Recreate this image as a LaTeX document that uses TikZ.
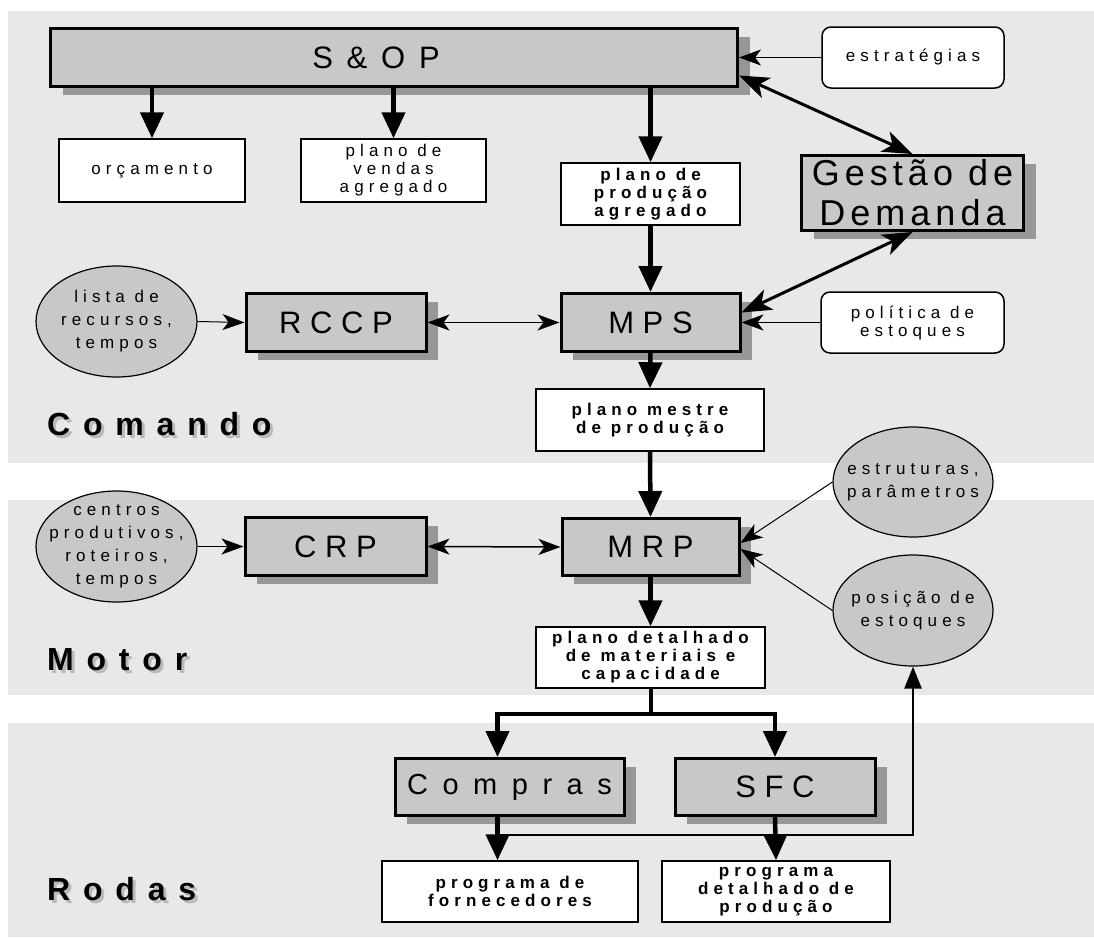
\documentclass[tikz,border=0pt]{standalone}
\usepackage{fontspec}
\setmainfont{Liberation Sans}
\newfontfamily\spc[LetterSpace=30]{Liberation Sans}
\newfontfamily\spcbf[LetterSpace=30]{Liberation Sans Bold}
\newfontfamily\secbf[LetterSpace=40]{Liberation Sans Bold}
\newfontfamily\gdfont[LetterSpace=14]{Liberation Sans}
\newfontfamily\cmpfont[LetterSpace=50]{Liberation Sans}
\usetikzlibrary{arrows.meta,shapes.geometric,shadows,positioning}

\definecolor{panelgray}{HTML}{E8E8E8}
\definecolor{boxgray}{HTML}{C8C8C8}
\definecolor{shadowgray}{HTML}{979797}

\tikzset{
  panel/.style={fill=panelgray,draw=none},
  bigbox/.style={draw,line width=3pt,fill=boxgray,inner sep=0pt,
    drop shadow={shadow xshift=12pt,shadow yshift=-8pt,fill=shadowgray,opacity=1},
    font=\fontsize{31}{34}\selectfont},
  infobox/.style={draw,line width=1.5pt,fill=white,inner sep=0pt,align=center,
    font=\spc\fontsize{17}{18}\selectfont},
  planbox/.style={infobox,font=\spcbf\fontsize{17}{18}\selectfont},
  roundbox/.style={infobox,rounded corners=9pt},
  oval/.style={ellipse,draw,line width=1.2pt,fill=boxgray,inner sep=-14pt,align=center,
    minimum width=160pt,minimum height=110pt,font=\spc\fontsize{17}{23}\selectfont},
  seclabel/.style={anchor=base west,inner sep=0pt,font=\secbf\fontsize{32}{36}\selectfont},
  bigarrow/.style={line width=4.5pt,-{Triangle[length=26pt,width=23pt]}},
  thinarrow/.style={line width=1pt,-{Stealth[length=22pt,width=16pt,inset=6pt]}},
  thindbl/.style={line width=1.5pt,{Stealth[length=22pt,width=16pt,inset=6pt]}-{Stealth[length=22pt,width=16pt,inset=6pt]}},
  dblarrow/.style={line width=3pt,{Stealth[length=30pt,width=22pt,inset=8pt]}-{Stealth[length=30pt,width=22pt,inset=8pt]}},
  fbarrow/.style={line width=2.5pt,-{Triangle[length=22pt,width=17pt]}}
}

\begin{document}
\begin{tikzpicture}[x=1pt,y=-1pt]
  \useasboundingbox (0,0) rectangle (1094,937);
  \fill[panel] (8,11) rectangle (1094,463);
  \fill[panel] (8,500) rectangle (1094,695);
  \fill[panel] (8,723) rectangle (1094,937);

  % Comando
  \node[bigbox,minimum width=687pt,minimum height=58pt] (sop) at (394,57.5) {S \,\&\, O\, P\hspace*{36pt}};
  \node[infobox,minimum width=186pt,minimum height=63pt] (orc) at (152,170.5) {orçamento};
  \node[infobox,minimum width=185pt,minimum height=63pt] (pvend) at (393.5,170.5) {plano de\\vendas\\agregado};
  \node[roundbox,minimum width=182pt,minimum height=61pt] (estr) at (913,57.5) {estratégias};
  \node[planbox,minimum width=179pt,minimum height=62pt] (ppa) at (650.5,194) {plano de\\produção\\agregado};
  \node[bigbox,minimum width=222pt,minimum height=75pt,align=center,
        font=\gdfont\fontsize{36}{40}\selectfont] (gestao) at (912.5,193) {Gestão de\\Demanda};
  \node[bigbox,minimum width=179pt,minimum height=58pt] (mps) at (650.5,322.5) {M P S};
  \node[roundbox,minimum width=183pt,minimum height=61pt] (pol) at (912.5,322.5) {política de\\estoques};
  \node[bigbox,minimum width=180pt,minimum height=58pt] (rccp) at (336,322.5) {R C C P};
  \node[oval,minimum width=161pt,minimum height=111pt] (lista) at (116.5,321.5) {lista de\\recursos,\\tempos};
  \node[planbox,minimum width=228pt,minimum height=62pt] (pm) at (650,420) {plano mestre\\de produção};
  \node[seclabel,text=gray!55] (comandoshade) at (50,438) {Comando};
  \node[seclabel] (comando) at (47,435) {Comando};

  % Motor
  \node[oval,minimum width=161pt,minimum height=111pt] (centros) at (116.5,546.5) {centros\\produtivos,\\roteiros,\\tempos};
  \node[bigbox,minimum width=181pt,minimum height=58pt] (crp) at (335.5,546.5) {C R P};
  \node[bigbox,minimum width=177pt,minimum height=57pt] (mrp) at (650.5,547) {M R P};
  \node[oval] (estrut) at (913,482) {estruturas,\\parâmetros};
  \node[oval,minimum height=111pt] (posicao) at (913,610.5) {posição de\\estoques};
  \node[planbox,minimum width=229pt,minimum height=61pt] (pd) at (650.5,657.5) {plano detalhado\\de materiais e\\capacidade};
  \node[seclabel,text=gray!55] (motorshade) at (50,673) {Motor};
  \node[seclabel] (motor) at (47,670) {Motor};

  % Rodas
  \node[bigbox,minimum width=229pt,minimum height=57pt,font=\cmpfont\fontsize{29}{34}\selectfont] (compras) at (509.5,787) {Compras};
  \node[bigbox,minimum width=200pt,minimum height=57pt] (sfc) at (775,787) {S F C};
  \node[planbox,minimum width=256pt,minimum height=61pt] (pf) at (510,891.5) {programa de\\fornecedores};
  \node[planbox,minimum width=228pt,minimum height=61pt] (pdp) at (776,891.5) {programa\\detalhado de\\produção};
  \node[seclabel,text=gray!55] (rodasshade) at (50,903) {Rodas};
  \node[seclabel] (rodas) at (47,900) {Rodas};

  % ligacoes
  \draw[bigarrow] (sop.south -| orc.north) -- (orc.north);
  \draw[bigarrow] (sop.south -| pvend.north) -- (pvend.north);
  \draw[bigarrow] (sop.south -| ppa.north) -- (ppa.north);
  \draw[thinarrow] (estr.west) -- (sop.east);
  \draw[dblarrow] ([yshift=-18pt]sop.east) -- (gestao.north);
  \draw[dblarrow] (gestao.south) -- ([yshift=10pt]mps.east);
  \draw[bigarrow] (ppa.south) -- (mps.north);
  \draw[thinarrow] (pol.west) -- (mps.east);
  \draw[thinarrow] (lista.east) -- (rccp.west);
  \draw[thindbl] (rccp.east) -- (mps.west);
  \draw[bigarrow] (mps.south) -- (pm.north);
  \draw[bigarrow] (pm.south) -- (mrp.north);
  \draw[thinarrow] (centros.east) -- (crp.west);
  \draw[thindbl] (crp.east) -- (mrp.west);
  \draw[thinarrow] (estrut.west) -- ([yshift=4pt]mrp.east);
  \draw[thinarrow] (posicao.west) -- ([yshift=-2pt]mrp.east);
  \draw[bigarrow] (mrp.south) -- (pd.north);
  \coordinate (split) at ([yshift=-25pt]pd.south);
  \draw[line width=4pt] (pd.south) -- (split);
  \draw[bigarrow] (split) -| ([xshift=-12pt]compras.north);
  \draw[bigarrow] (split) -| (sfc.north);
  \draw[bigarrow] ([xshift=-12pt]compras.south) -- ([xshift=-12pt]compras.south |- pf.north);
  \draw[bigarrow] (sfc.south) -- (pdp.north);
  \coordinate (fb) at ([xshift=-12pt,yshift=-18pt]compras.south);
  \draw[fbarrow] (fb) -| (posicao.south);
\end{tikzpicture}
\end{document}
